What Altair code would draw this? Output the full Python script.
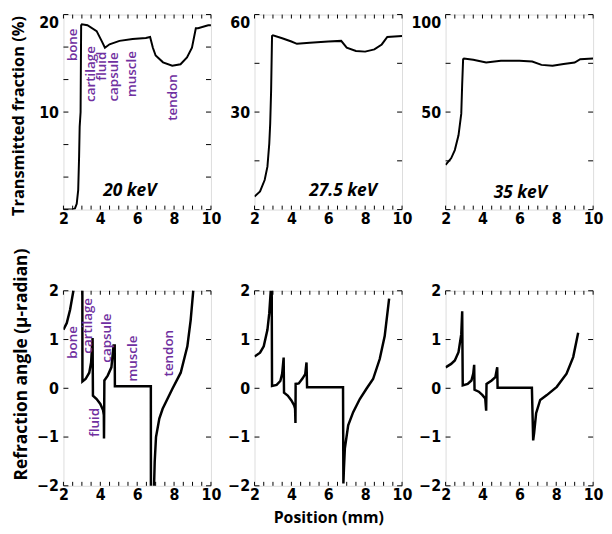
import altair as alt
import pandas as pd

# ---------------- data ----------------
# Transmitted fraction (%) vs position (mm)
T20_X = [2.0, 2.4, 2.62, 2.72, 2.8, 2.85, 2.88, 2.93, 2.96, 3.0, 3.3, 3.8, 4.07, 4.25, 4.5, 5.04, 5.75, 6.47, 6.7, 6.85, 7.0, 7.4, 7.9, 8.35, 8.7, 8.97, 9.18, 9.3, 9.85, 10.0]
T20_Y = [0.0, 0.0, 0.1, 0.6, 2.0, 5.5, 8.5, 10.0, 18.9, 19.0, 18.9, 18.3, 17.3, 16.6, 16.95, 17.3, 17.5, 17.6, 17.7, 16.6, 15.8, 15.1, 14.75, 14.9, 15.6, 16.6, 18.6, 18.6, 18.9, 18.9]

T27_X = [2.0, 2.3, 2.55, 2.7, 2.8, 2.85, 2.9, 2.95, 3.0, 3.5, 4.0, 4.3, 5.0, 6.0, 6.7, 7.0, 7.5, 8.0, 8.5, 8.9, 9.2, 10.0]
T27_Y = [4.0, 5.6, 9.1, 13.2, 20.3, 26.4, 36.6, 53.4, 53.6, 52.7, 51.7, 51.0, 51.3, 51.7, 51.9, 49.8, 48.8, 48.6, 49.3, 50.8, 53.1, 53.4]

T35_X = [2.0, 2.3, 2.5, 2.7, 2.85, 2.9, 2.95, 3.0, 3.5, 4.2, 5.0, 6.0, 6.7, 7.2, 7.8, 8.4, 9.0, 9.3, 10.0]
T35_Y = [22.9, 26.3, 30.5, 38.1, 49.2, 64.4, 77.1, 77.5, 76.8, 75.4, 76.3, 76.3, 75.9, 74.2, 73.7, 74.6, 75.4, 77.1, 77.5]

# Refraction angle (micro-radian) vs position (mm)
R20_X = [2.0, 2.18, 2.36, 2.54, 2.7, 2.9, 3.0, 3.02, 3.03, 3.2, 3.4, 3.5, 3.58, 3.6, 3.8, 4.0, 4.15, 4.19, 4.2, 4.22, 4.4, 4.6, 4.72, 4.78, 4.79, 6.74, 6.75, 6.88, 6.9, 6.95, 7.02, 7.2, 7.38, 7.91, 8.36, 8.72, 8.9, 9.04, 9.1]
R20_Y = [1.2, 1.34, 1.61, 2.0, 2.6, 3.6, 5.0, 5.0, 0.14, 0.19, 0.32, 0.53, 1.03, -0.15, -0.22, -0.32, -0.45, -0.55, -1.03, 0.16, 0.26, 0.43, 0.88, 0.88, 0.04, 0.04, -5.0, -5.0, -2.2, -1.5, -1.0, -0.62, -0.42, -0.01, 0.32, 0.86, 1.4, 2.0, 2.4]

R27_X = [2.0, 2.3, 2.5, 2.7, 2.8, 2.88, 2.93, 2.95, 3.2, 3.4, 3.5, 3.58, 3.6, 3.8, 4.0, 4.15, 4.2, 4.22, 4.23, 4.4, 4.6, 4.75, 4.82, 4.85, 6.8, 6.82, 6.85, 6.9, 7.08, 7.35, 7.71, 8.07, 8.43, 8.79, 9.06, 9.3]
R27_Y = [0.65, 0.73, 0.86, 1.2, 1.54, 2.0, 2.3, 0.05, 0.07, 0.15, 0.3, 0.63, -0.09, -0.15, -0.25, -0.35, -0.42, -0.71, 0.09, 0.1, 0.2, 0.29, 0.53, 0.02, 0.02, -1.95, -1.64, -1.23, -0.76, -0.49, -0.22, -0.01, 0.19, 0.6, 1.07, 1.84]

R35_X = [2.0, 2.3, 2.5, 2.7, 2.85, 2.9, 2.93, 3.2, 3.4, 3.5, 3.55, 3.57, 3.8, 4.0, 4.15, 4.2, 4.22, 4.5, 4.7, 4.8, 4.82, 6.68, 6.75, 6.8, 6.91, 7.13, 7.49, 8.03, 8.56, 8.92, 9.19]
R35_Y = [0.43, 0.5, 0.57, 0.74, 1.11, 1.58, 0.06, 0.09, 0.16, 0.3, 0.48, -0.03, -0.07, -0.14, -0.21, -0.46, 0.09, 0.16, 0.23, 0.43, 0.01, 0.01, -1.07, -0.92, -0.51, -0.24, -0.14, 0.03, 0.3, 0.64, 1.14]

# tissue annotations
TISSUES = ["bone", "cartilage", "fluid", "capsule", "muscle", "tendon"]
TOP_LAB_X = [2.5, 3.49, 4.11, 4.74, 5.73, 7.97]
TOP_LAB_Y = [16.9, 13.9, 14.7, 13.6, 13.9, 11.5]
BOT_LAB_X = [2.52, 3.36, 3.72, 4.35, 5.75, 7.75]
BOT_LAB_Y = [0.94, 1.28, -0.7, 1.03, 0.61, 0.72]

ENERGIES = ["20 keV", "27.5 keV", "35 keV"]
ENERGY_X = [5.6, 6.8, 6.05]
ENERGY_Y = [1.9, 5.6, 8.3]

TOP_DOMAINS = [[0, 20], [0, 60], [0, 100]]
TOP_TICKS = [[0, 10 / 3, 20 / 3, 10, 40 / 3, 50 / 3, 20], [0, 15, 30, 45, 60], [0, 25, 50, 75, 100]]
TOP_LABELED = [[10, 20], [30, 60], [50, 100]]
BOT_TICKS = [-2, -1, 0, 1, 2]
X_MINOR = [2 + 0.5 * i for i in range(17)]
X_LABELED = [2, 4, 6, 8, 10]

# ---------------- styling ----------------
W, H = 149, 197
PURPLE = "#7030A0"
TICK_FONT = "DejaVu Sans Condensed"
TITLE_FONT = "Open Sans"

LABEL_STYLE = dict(
    ticks=False, domain=False, grid=False, labelFont=TICK_FONT, labelFontSize=16,
    labelFontWeight="bold", labelColor="black", labelOverlap=False,
)


def make_axes(ylabeled, yflush, ytitle, ytitle_style, xtitle):
    if xtitle:
        xaxis = alt.Axis(
            values=X_LABELED, labelPadding=1, labelFlush=False, title=xtitle,
            titleFont=TITLE_FONT, titleFontSize=16, titleFontWeight="bold",
            titleColor="black", titlePadding=7, **LABEL_STYLE,
        )
    else:
        xaxis = alt.Axis(values=X_LABELED, labelPadding=1, labelFlush=False, title=None,
                         **LABEL_STYLE)
    if ytitle:
        tx, ty, tsize = ytitle_style
        yaxis = alt.Axis(
            values=ylabeled, labelPadding=5, labelFlush=yflush, title=ytitle,
            titleFont=TITLE_FONT, titleFontSize=tsize, titleFontWeight="bold",
            titleColor="black", titleAngle=270, titleX=tx, titleY=ty,
            titleAlign="center", titleBaseline="middle", **LABEL_STYLE,
        )
    else:
        yaxis = alt.Axis(values=ylabeled, labelPadding=5, labelFlush=yflush, title=None,
                         **LABEL_STYLE)
    return xaxis, yaxis


def panel(xs, ys, ydom, yticks, ylabeled, yflush, ytitle="", ytitle_style=None, xtitle="",
          labels=None, energy=None, sw=2.0):
    xaxis, yaxis = make_axes(ylabeled, yflush, ytitle, ytitle_style, xtitle)
    xscale = alt.Scale(domain=[2, 10], nice=False, zero=False)
    yscale = alt.Scale(domain=ydom, nice=False, zero=False)
    X = lambda: alt.X("x:Q", scale=xscale, axis=xaxis)
    Y = lambda: alt.Y("y:Q", scale=yscale, axis=yaxis)

    df = pd.DataFrame({"x": xs, "y": ys, "i": list(range(len(xs)))})
    line = alt.Chart(df).mark_line(color="black", strokeWidth=sw, clip=True).encode(
        x=X(), y=Y(), order="i:Q",
    )
    xt = alt.Chart(pd.DataFrame({"x": X_MINOR})).mark_rule(color="black", strokeWidth=1)
    yt = alt.Chart(pd.DataFrame({"y": yticks})).mark_rule(color="black", strokeWidth=1)
    layers = [
        line,
        xt.encode(x=X(), y=alt.value(H), y2=alt.value(H - 4)),
        xt.encode(x=X(), y=alt.value(0), y2=alt.value(4)),
        yt.encode(y=Y(), x=alt.value(0), x2=alt.value(5)),
        yt.encode(y=Y(), x=alt.value(W), x2=alt.value(W - 5)),
    ]
    if labels is not None:
        ldf = pd.DataFrame({"t": TISSUES, "x": labels[0], "y": labels[1]})
        layers.append(
            alt.Chart(ldf).mark_text(
                angle=270, color=PURPLE, font=TITLE_FONT, fontSize=13.5, fontWeight=600,
                align="center", baseline="middle",
            ).encode(x=X(), y=Y(), text="t:N")
        )
    if energy is not None:
        edf = pd.DataFrame({"t": [energy[0]], "x": [energy[1]], "y": [energy[2]]})
        layers.append(
            alt.Chart(edf).mark_text(
                font=TITLE_FONT, fontSize=17.5, fontWeight="bold", fontStyle="italic",
                color="black", align="center", baseline="middle",
            ).encode(x=X(), y=Y(), text="t:N")
        )
    return alt.layer(*layers).properties(width=W, height=H)


panels = [
    panel(T20_X, T20_Y, TOP_DOMAINS[0], TOP_TICKS[0], TOP_LABELED[0], True,
          ytitle="Transmitted fraction (%)", ytitle_style=(-45, 102, 16.5),
          labels=(TOP_LAB_X, TOP_LAB_Y),
          energy=(ENERGIES[0], ENERGY_X[0], ENERGY_Y[0])),
    panel(T27_X, T27_Y, TOP_DOMAINS[1], TOP_TICKS[1], TOP_LABELED[1], True,
          energy=(ENERGIES[1], ENERGY_X[1], ENERGY_Y[1])),
    panel(T35_X, T35_Y, TOP_DOMAINS[2], TOP_TICKS[2], TOP_LABELED[2], True,
          energy=(ENERGIES[2], ENERGY_X[2], ENERGY_Y[2])),
    panel(R20_X, R20_Y, [-2, 2], BOT_TICKS, BOT_TICKS, False,
          ytitle="Refraction angle (\u03bc-radian)", ytitle_style=(-42, 74, 17.5),
          labels=(BOT_LAB_X, BOT_LAB_Y), sw=2.5),
    panel(R27_X, R27_Y, [-2, 2], BOT_TICKS, BOT_TICKS, False, xtitle="Position (mm)", sw=2.5),
    panel(R35_X, R35_Y, [-2, 2], BOT_TICKS, BOT_TICKS, False, sw=2.5),
]

chart = alt.concat(
    *panels, columns=3, spacing={"row": 82, "column": 44}, bounds="flush"
).properties(
    padding={"left": 2, "top": 3, "right": 0, "bottom": 0}
).configure_axis(
    labelOverlap=False
).configure_view(stroke="black", strokeWidth=1.5).configure(background="white")

chart.save("out.html", embed_options={"renderer": "svg", "actions": False})
